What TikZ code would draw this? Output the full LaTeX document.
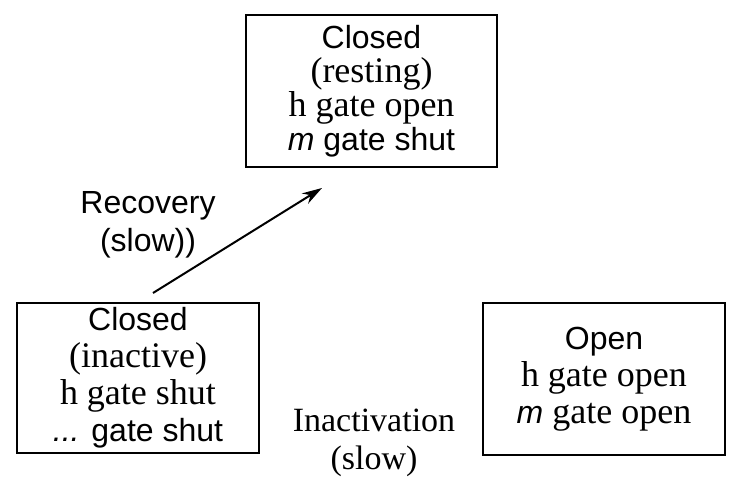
\documentclass[tikz,border=0pt]{standalone}
\usepackage{fontspec}
\setmainfont{Liberation Serif}
\setsansfont{Liberation Sans}
\usetikzlibrary{arrows.meta}
\newcommand{\sfl}[1]{{\sffamily\fontsize{16}{17}\selectfont #1}}

\begin{document}
\begin{tikzpicture}[x=0.5pt,y=-0.5pt,
    state/.style={draw, line width=1pt, inner sep=0pt, align=center, font=\fontsize{18}{18.5}\selectfont},
    lbl/.style={align=center, inner sep=0pt}]
  \useasboundingbox (0,0) rectangle (735,481);
  \node[state, font=\fontsize{18}{17}\selectfont, minimum width=125.5pt, minimum height=76pt] (rest) at (371.5,91)
    {\sfl{Closed}\\(resting)\\h gate open\\\sfl{\textit{m} gate shut}};
  \node[state, minimum width=121pt, minimum height=75pt] (inact) at (138,378)
    {\sfl{Closed}\\(inactive)\\h gate shut\\\sfl{\textit{...} gate shut}};
  \node[state, minimum width=121pt, minimum height=76pt] (open) at (604,379)
    {\sfl{Open}\\h gate open\\\sfl{\textit{m}} gate open};
  \coordinate (rec-from) at (153,293);
  \coordinate (rec-to) at (322,188);
  \draw[-{Stealth[length=10pt,width=6pt]}, line width=1pt] (rec-from) -- (rec-to);
  \node[lbl] (rec-lbl) at (148,225) {\sfl{Recovery}\\[3pt]\sfl{(slow))}};
  \node[lbl, font=\fontsize{17}{19}\selectfont] (inact-lbl) at (374,443) {Inactivation\\(slow)};
\end{tikzpicture}
\end{document}
